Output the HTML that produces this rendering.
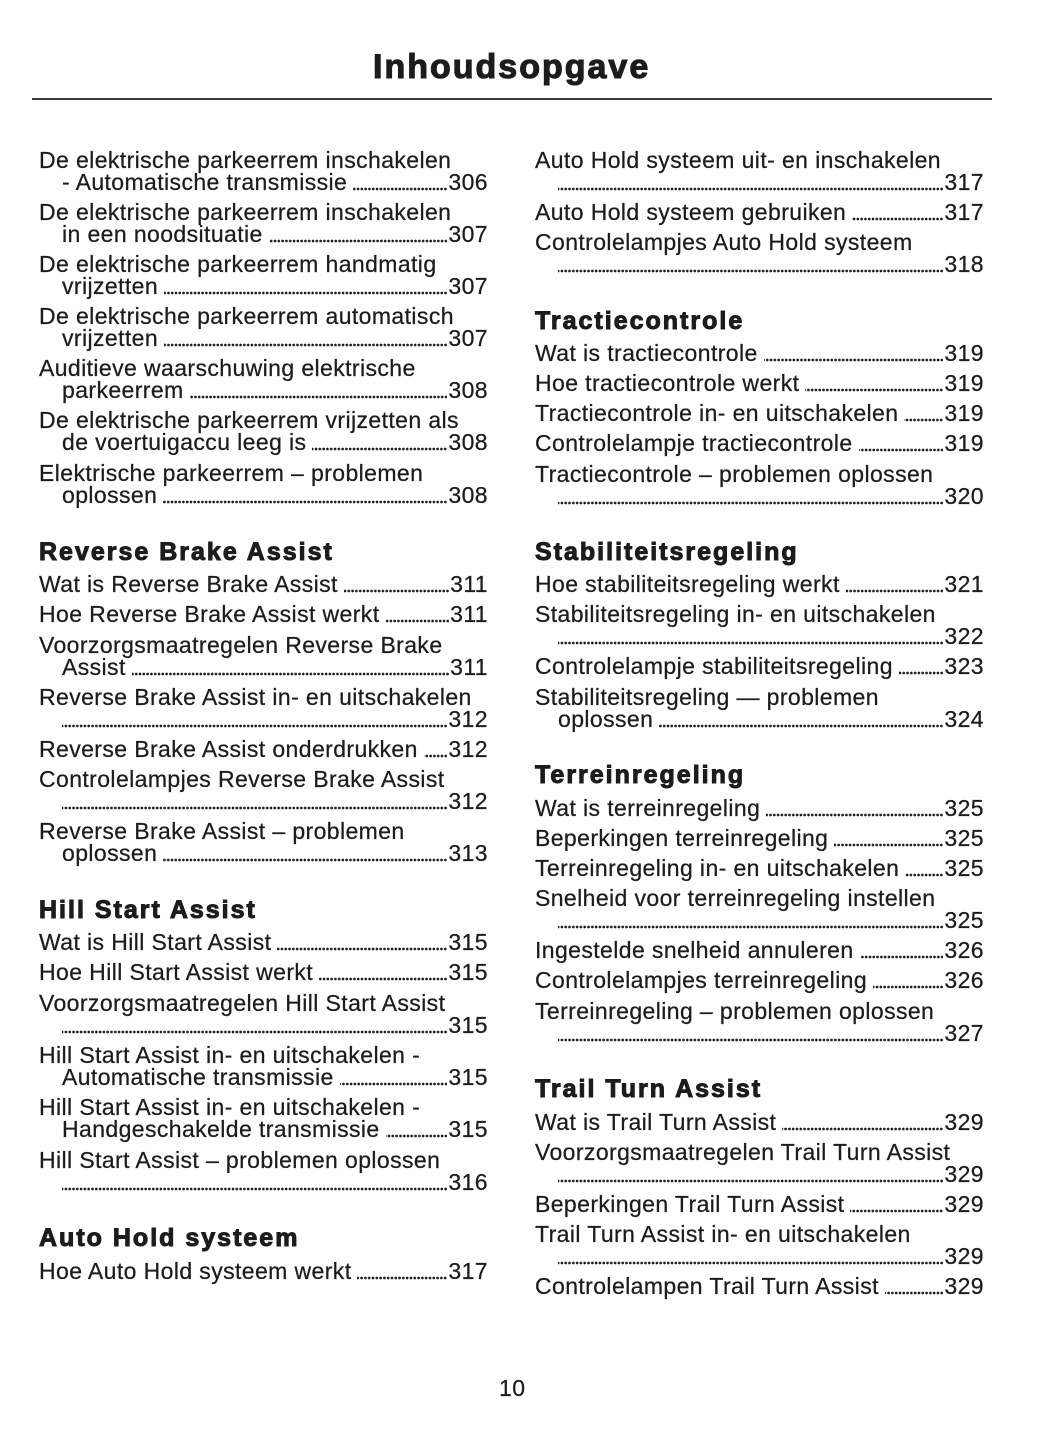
<!DOCTYPE html>
<html>
<head>
<meta charset="utf-8">
<style>
  html,body{margin:0;padding:0;}
  body{width:1055px;height:1448px;background:#fff;position:relative;overflow:hidden;
       font-family:"Liberation Sans",sans-serif;color:#1c1c1c;}
  .title{position:absolute;left:373px;top:50px;font-size:34px;line-height:34px;font-weight:bold;
         letter-spacing:2px;white-space:nowrap;-webkit-text-stroke:1.1px #1c1c1c;}
  .rule{position:absolute;left:32px;top:98px;width:960px;height:2px;background:#3a3a3a;}
  .l{position:absolute;height:22px;line-height:22px;font-size:23px;letter-spacing:0.4px;
     white-space:nowrap;display:flex;align-items:flex-start;-webkit-text-stroke:0.25px #1c1c1c;
     margin-top:-0.4px;}
  .a{left:39px;width:449px;}
  .ai{left:62px;width:426px;}
  .b{left:535px;width:449px;}
  .bi{left:558px;width:426px;}
  .t{flex:none;}
  .n{flex:none;}
  .d{flex:1 1 auto;height:4px;margin:15.5px 1px 0 6px;
     background-image:radial-gradient(circle at 2px 2px,#1c1c1c 1.1px,rgba(28,28,28,0) 1.6px);
     background-size:3.8px 4px;background-repeat:repeat-x;background-position:right bottom;}
  .d0{margin-left:0;}
  .h{position:absolute;font-size:25px;line-height:25px;font-weight:bold;letter-spacing:2px;
     white-space:nowrap;-webkit-text-stroke:1px #1c1c1c;}
  .pg{position:absolute;left:499px;top:1377px;font-size:23px;line-height:22px;letter-spacing:0.4px;-webkit-text-stroke:0.25px #1c1c1c;}
</style>
</head>
<body>
<div class="title">Inhoudsopgave</div>
<div class="rule"></div>

<!-- LEFT COLUMN -->
<div class="l a" style="top:149.4px"><span class="t">De elektrische parkeerrem inschakelen</span></div>
<div class="l ai" style="top:171.4px"><span class="t">- Automatische transmissie</span><span class="d"></span><span class="n">306</span></div>
<div class="l a" style="top:201.4px"><span class="t">De elektrische parkeerrem inschakelen</span></div>
<div class="l ai" style="top:223.4px"><span class="t">in een noodsituatie</span><span class="d"></span><span class="n">307</span></div>
<div class="l a" style="top:253.4px"><span class="t">De elektrische parkeerrem handmatig</span></div>
<div class="l ai" style="top:275.4px"><span class="t">vrijzetten</span><span class="d"></span><span class="n">307</span></div>
<div class="l a" style="top:305.4px"><span class="t">De elektrische parkeerrem automatisch</span></div>
<div class="l ai" style="top:327.4px"><span class="t">vrijzetten</span><span class="d"></span><span class="n">307</span></div>
<div class="l a" style="top:357.4px"><span class="t">Auditieve waarschuwing elektrische</span></div>
<div class="l ai" style="top:379.4px"><span class="t">parkeerrem</span><span class="d"></span><span class="n">308</span></div>
<div class="l a" style="top:409.4px"><span class="t">De elektrische parkeerrem vrijzetten als</span></div>
<div class="l ai" style="top:431.4px"><span class="t">de voertuigaccu leeg is</span><span class="d"></span><span class="n">308</span></div>
<div class="l a" style="top:462.4px"><span class="t">Elektrische parkeerrem – problemen</span></div>
<div class="l ai" style="top:484.4px"><span class="t">oplossen</span><span class="d"></span><span class="n">308</span></div>

<div class="h" style="left:39px;top:539.8px">Reverse Brake Assist</div>
<div class="l a" style="top:573.4px"><span class="t">Wat is Reverse Brake Assist</span><span class="d"></span><span class="n">311</span></div>
<div class="l a" style="top:603.4px"><span class="t">Hoe Reverse Brake Assist werkt</span><span class="d"></span><span class="n">311</span></div>
<div class="l a" style="top:634.4px"><span class="t">Voorzorgsmaatregelen Reverse Brake</span></div>
<div class="l ai" style="top:656.4px"><span class="t">Assist</span><span class="d"></span><span class="n">311</span></div>
<div class="l a" style="top:686.4px"><span class="t">Reverse Brake Assist in- en uitschakelen</span></div>
<div class="l ai" style="top:708.4px"><span class="d d0"></span><span class="n">312</span></div>
<div class="l a" style="top:738.4px"><span class="t">Reverse Brake Assist onderdrukken</span><span class="d"></span><span class="n">312</span></div>
<div class="l a" style="top:768.4px"><span class="t">Controlelampjes Reverse Brake Assist</span></div>
<div class="l ai" style="top:790.4px"><span class="d d0"></span><span class="n">312</span></div>
<div class="l a" style="top:820.4px"><span class="t">Reverse Brake Assist – problemen</span></div>
<div class="l ai" style="top:842.4px"><span class="t">oplossen</span><span class="d"></span><span class="n">313</span></div>

<div class="h" style="left:39px;top:897.8px">Hill Start Assist</div>
<div class="l a" style="top:931.4px"><span class="t">Wat is Hill Start Assist</span><span class="d"></span><span class="n">315</span></div>
<div class="l a" style="top:961.4px"><span class="t">Hoe Hill Start Assist werkt</span><span class="d"></span><span class="n">315</span></div>
<div class="l a" style="top:992.4px"><span class="t">Voorzorgsmaatregelen Hill Start Assist</span></div>
<div class="l ai" style="top:1014.4px"><span class="d d0"></span><span class="n">315</span></div>
<div class="l a" style="top:1044.4px"><span class="t">Hill Start Assist in- en uitschakelen -</span></div>
<div class="l ai" style="top:1066.4px"><span class="t">Automatische transmissie</span><span class="d"></span><span class="n">315</span></div>
<div class="l a" style="top:1096.4px"><span class="t">Hill Start Assist in- en uitschakelen -</span></div>
<div class="l ai" style="top:1118.4px"><span class="t">Handgeschakelde transmissie</span><span class="d"></span><span class="n">315</span></div>
<div class="l a" style="top:1149.4px"><span class="t">Hill Start Assist – problemen oplossen</span></div>
<div class="l ai" style="top:1171.4px"><span class="d d0"></span><span class="n">316</span></div>

<div class="h" style="left:39px;top:1225.8px">Auto Hold systeem</div>
<div class="l a" style="top:1260.4px"><span class="t">Hoe Auto Hold systeem werkt</span><span class="d"></span><span class="n">317</span></div>

<!-- RIGHT COLUMN -->
<div class="l b" style="top:149.4px"><span class="t">Auto Hold systeem uit- en inschakelen</span></div>
<div class="l bi" style="top:171.4px"><span class="d d0"></span><span class="n">317</span></div>
<div class="l b" style="top:201.4px"><span class="t">Auto Hold systeem gebruiken</span><span class="d"></span><span class="n">317</span></div>
<div class="l b" style="top:231.4px"><span class="t">Controlelampjes Auto Hold systeem</span></div>
<div class="l bi" style="top:253.4px"><span class="d d0"></span><span class="n">318</span></div>

<div class="h" style="left:535px;top:308.8px">Tractiecontrole</div>
<div class="l b" style="top:342.4px"><span class="t">Wat is tractiecontrole</span><span class="d"></span><span class="n">319</span></div>
<div class="l b" style="top:372.4px"><span class="t">Hoe tractiecontrole werkt</span><span class="d"></span><span class="n">319</span></div>
<div class="l b" style="top:402.4px"><span class="t">Tractiecontrole in- en uitschakelen</span><span class="d"></span><span class="n">319</span></div>
<div class="l b" style="top:432.4px"><span class="t">Controlelampje tractiecontrole</span><span class="d"></span><span class="n">319</span></div>
<div class="l b" style="top:463.4px"><span class="t">Tractiecontrole – problemen oplossen</span></div>
<div class="l bi" style="top:485.4px"><span class="d d0"></span><span class="n">320</span></div>

<div class="h" style="left:535px;top:539.8px">Stabiliteitsregeling</div>
<div class="l b" style="top:573.4px"><span class="t">Hoe stabiliteitsregeling werkt</span><span class="d"></span><span class="n">321</span></div>
<div class="l b" style="top:603.4px"><span class="t">Stabiliteitsregeling in- en uitschakelen</span></div>
<div class="l bi" style="top:625.4px"><span class="d d0"></span><span class="n">322</span></div>
<div class="l b" style="top:655.4px"><span class="t">Controlelampje stabiliteitsregeling</span><span class="d"></span><span class="n">323</span></div>
<div class="l b" style="top:686.4px"><span class="t">Stabiliteitsregeling — problemen</span></div>
<div class="l bi" style="top:708.4px"><span class="t">oplossen</span><span class="d"></span><span class="n">324</span></div>

<div class="h" style="left:535px;top:762.8px">Terreinregeling</div>
<div class="l b" style="top:797.4px"><span class="t">Wat is terreinregeling</span><span class="d"></span><span class="n">325</span></div>
<div class="l b" style="top:827.4px"><span class="t">Beperkingen terreinregeling</span><span class="d"></span><span class="n">325</span></div>
<div class="l b" style="top:857.4px"><span class="t">Terreinregeling in- en uitschakelen</span><span class="d"></span><span class="n">325</span></div>
<div class="l b" style="top:887.4px"><span class="t">Snelheid voor terreinregeling instellen</span></div>
<div class="l bi" style="top:909.4px"><span class="d d0"></span><span class="n">325</span></div>
<div class="l b" style="top:939.4px"><span class="t">Ingestelde snelheid annuleren</span><span class="d"></span><span class="n">326</span></div>
<div class="l b" style="top:969.4px"><span class="t">Controlelampjes terreinregeling</span><span class="d"></span><span class="n">326</span></div>
<div class="l b" style="top:1000.4px"><span class="t">Terreinregeling – problemen oplossen</span></div>
<div class="l bi" style="top:1022.4px"><span class="d d0"></span><span class="n">327</span></div>

<div class="h" style="left:535px;top:1076.8px">Trail Turn Assist</div>
<div class="l b" style="top:1111.4px"><span class="t">Wat is Trail Turn Assist</span><span class="d"></span><span class="n">329</span></div>
<div class="l b" style="top:1141.4px"><span class="t">Voorzorgsmaatregelen Trail Turn Assist</span></div>
<div class="l bi" style="top:1163.4px"><span class="d d0"></span><span class="n">329</span></div>
<div class="l b" style="top:1193.4px"><span class="t">Beperkingen Trail Turn Assist</span><span class="d"></span><span class="n">329</span></div>
<div class="l b" style="top:1223.4px"><span class="t">Trail Turn Assist in- en uitschakelen</span></div>
<div class="l bi" style="top:1245.4px"><span class="d d0"></span><span class="n">329</span></div>
<div class="l b" style="top:1275.4px"><span class="t">Controlelampen Trail Turn Assist</span><span class="d"></span><span class="n">329</span></div>

<div class="pg">10</div>
</body>
</html>
